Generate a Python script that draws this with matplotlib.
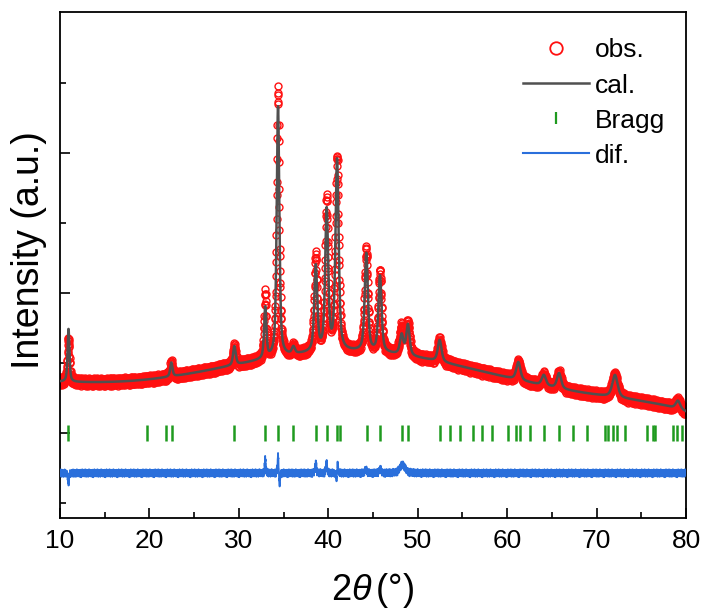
"""
Rietveld refinement plot: observed, calculated, Bragg positions and difference.
"""
import numpy as np
import matplotlib.pyplot as plt
from matplotlib.lines import Line2D

plt.rcParams['font.family'] = ['Liberation Sans', 'DejaVu Sans']
plt.rcParams['mathtext.fontset'] = 'custom'
plt.rcParams['mathtext.rm'] = 'Liberation Sans'
plt.rcParams['mathtext.it'] = 'Liberation Sans:italic'

# refined reflections: position (deg), height above background, FWHM (deg)
peak_pos = [10.95, 22.45, 29.5, 32.95, 34.38, 36.1, 38.6, 39.82, 40.98,
            44.25, 45.78, 48.2, 48.9, 52.45, 61.25, 64.1, 65.8, 72.05, 79.1]
peak_height = [380, 100, 135, 365, 1790, 50, 610, 1000, 1360,
               700, 545, 140, 220, 155, 128, 75, 110, 160, 60]
peak_fwhm = [0.25, 0.3, 0.35, 0.3, 0.35, 0.4, 0.4, 0.4, 0.42,
             0.42, 0.42, 0.45, 0.45, 0.5, 0.55, 0.55, 0.55, 0.7, 0.6]

# background
bg_x = [10, 12, 15, 20, 25, 30, 33, 36, 40, 43, 46, 50, 55, 60, 65, 70, 75, 80]
bg_y = [1371, 1357, 1364, 1393, 1436, 1479, 1514, 1550, 1586, 1600, 1586,
        1521, 1450, 1400, 1343, 1279, 1214, 1157]

# misfit features in obs - cal
misfit_pos = [10.95, 32.95, 34.38, 34.55, 38.6, 39.8, 40.9, 41.05, 44.2, 45.8, 48.3]
misfit_amp = [-85, 110, 130, -95, 75, 80, -40, 60, 30, 35, 60]
misfit_fwhm = [0.12, 0.12, 0.12, 0.1, 0.15, 0.15, 0.12, 0.12, 0.2, 0.2, 0.7]

# counting scatter, repeated along the scan
scatter = [0.3, -0.8, 0.5, 0.1, -0.4, 0.9, -0.2, -0.7, 0.6, 0.2, -0.9, 0.4,
           -0.1, 0.8, -0.5, -0.3, 0.7, 0.0, -0.6, 0.5, 0.3, -0.9, 0.2, 0.6,
           -0.4, -0.1, 0.9, -0.7, 0.1, 0.4, -0.5, 0.8, -0.2, -0.8, 0.3, 0.6,
           -0.3, 0.0, 0.7, -0.6, 0.2, -0.4, 0.5, -0.9, 0.1, 0.8, -0.1,
           0.6, -0.2, 0.4, -1.0, 0.2, 0.7, -0.5, 0.0, -0.3, 0.9, -0.6,
           0.1, 0.5, -0.8, 0.3, -0.1, 0.6, -0.4, 0.8, -0.7, 0.2]

bragg_pos = [10.93, 19.69, 21.85, 22.48, 29.46, 32.93, 34.35, 36.09, 38.63,
             39.82, 40.94, 41.31, 44.29, 45.78, 48.21, 48.88, 52.49, 53.61,
             54.73, 56.22, 57.15, 58.27, 60.06, 61.0, 61.45, 62.55, 64.12,
             65.83, 67.33, 68.89, 70.94, 71.31, 71.87, 72.25, 73.18, 75.6,
             76.35, 76.54, 78.58, 79.03, 79.52]

bragg_level = 1000
diff_offset = 714


def pseudo_voigt(x, x0, h, fwhm, eta=0.6):
    d = (x - x0) / fwhm
    gauss = np.exp(-4 * np.log(2) * d ** 2)
    lorentz = 1 / (1 + 4 * d ** 2)
    return h * (eta * lorentz + (1 - eta) * gauss)


two_theta = np.arange(10, 80.001, 0.02)

background = np.polynomial.Polynomial.fit(bg_x, bg_y, 6)(two_theta)
cal = background.copy()
for p, h, w in zip(peak_pos, peak_height, peak_fwhm):
    cal += pseudo_voigt(two_theta, p, h, w)

resid = 30 * np.resize(scatter, two_theta.size)
for p, a, w in zip(misfit_pos, misfit_amp, misfit_fwhm):
    resid += pseudo_voigt(two_theta, p, a, w)

obs = cal + resid
diff = resid + diff_offset

fig = plt.figure(figsize=(7.05, 6.13), dpi=100)
ax = fig.add_axes([0.0851, 0.155, 0.888, 0.825])

ax.plot(two_theta, obs, 'o', mfc='none', mec='#ff1010', ms=5, mew=1.0, zorder=2)
ax.plot(two_theta, cal, color='#505050', lw=1.8, zorder=3)
ax.plot(bragg_pos, [bragg_level] * len(bragg_pos), '|', color='#1f9a1f',
        ms=11.5, mew=1.8, zorder=3)
ax.plot(two_theta, diff, color='#2a6fdb', lw=1.3, zorder=3)

ax.set_xlim(10, 80)
ax.set_ylim(393, 4007)
ax.set_xticks(np.arange(10, 81, 10))
ax.set_xticks(np.arange(15, 80, 10), minor=True)
ax.set_yticks([1000, 2000, 3000])
ax.set_yticks([500, 1500, 2500, 3500], minor=True)
ax.set_yticklabels([])
ax.tick_params(direction='in', which='major', length=7, width=1.2,
               labelsize=19, pad=8)
ax.tick_params(direction='in', which='minor', length=4, width=1.2)
for s in ax.spines.values():
    s.set_linewidth(1.3)

ax.set_xlabel(r'2$\theta\,$(°)', fontsize=26, labelpad=13)
ax.set_ylabel('Intensity (a.u.)', fontsize=27, labelpad=1)
ax.yaxis.label.set_y(0.53)

handles = [
    Line2D([], [], marker='o', ls='none', mfc='none', mec='#ff1010', ms=9, mew=1.3),
    Line2D([], [], color='#505050', lw=1.8),
    Line2D([], [], marker='|', ls='none', color='#1f9a1f', ms=8, mew=1.6),
    Line2D([], [], color='#2a6fdb', lw=1.5),
]
ax.legend(handles, ['obs.', 'cal.', 'Bragg', 'dif.'], loc='upper right',
          bbox_to_anchor=(1.0, 0.99), frameon=False, fontsize=19,
          handlelength=2.5, borderaxespad=0.4, labelspacing=0.42,
          handletextpad=0.2)

plt.savefig('out.png', dpi=100)
